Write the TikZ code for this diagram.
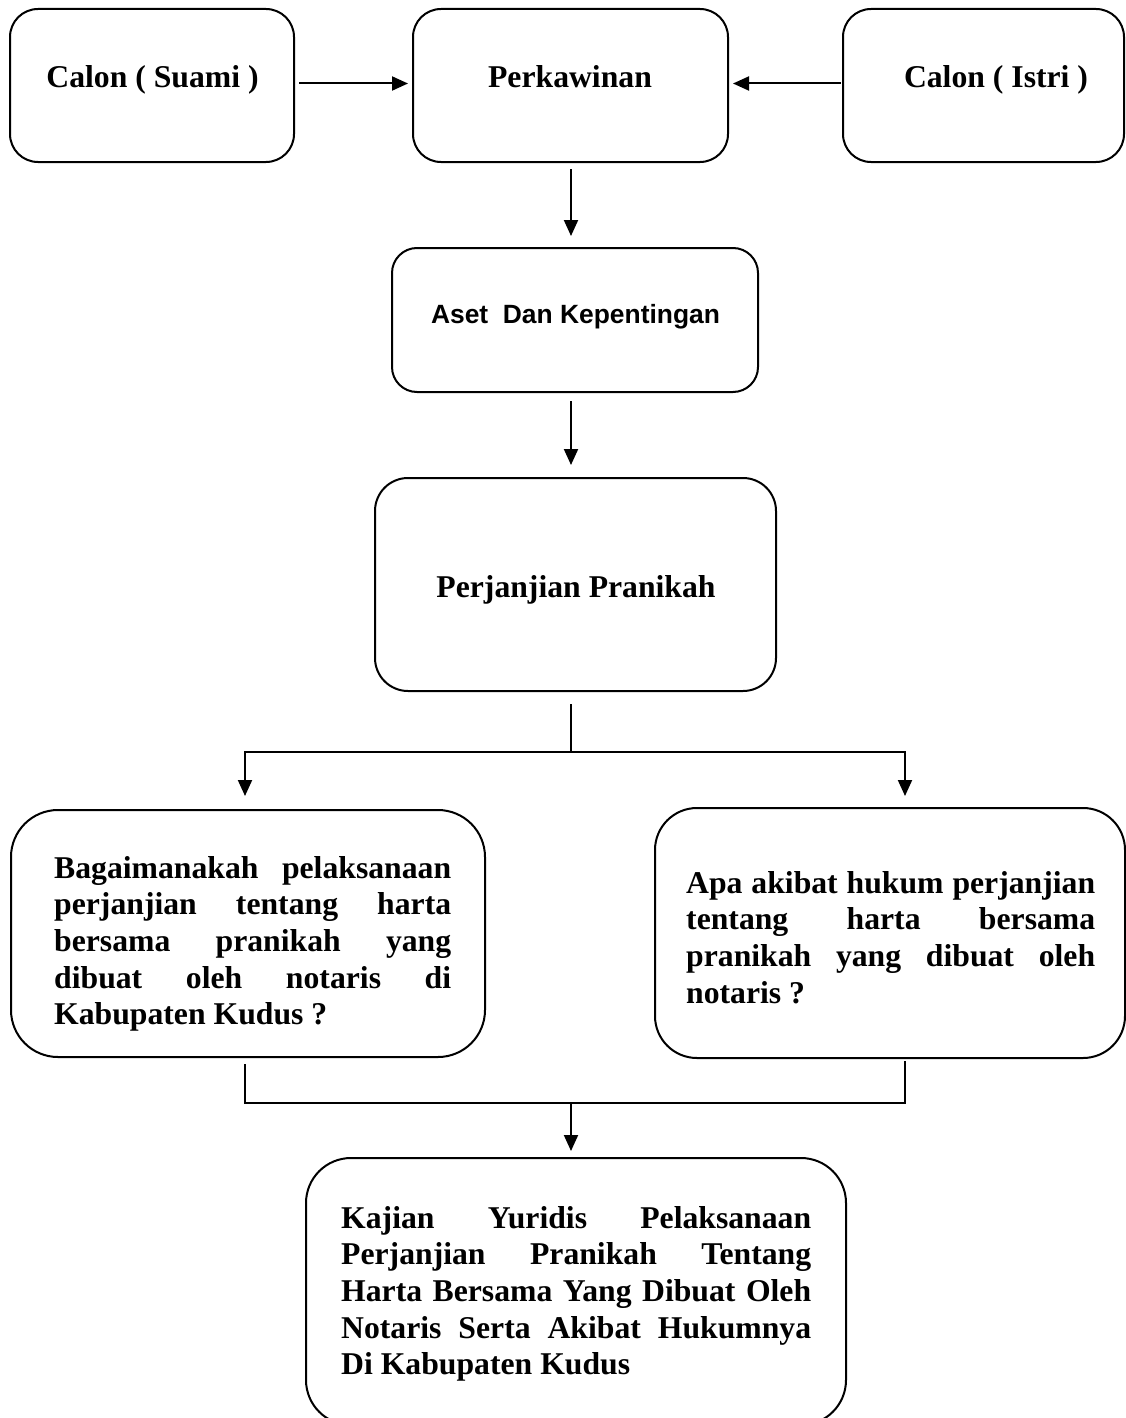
\documentclass[tikz,border=0pt]{standalone}
\usepackage{fontspec}
\setmainfont{Liberation Serif}
\newfontfamily\arialfont{Liberation Sans}
\usetikzlibrary{arrows.meta,calc}
\newcommand{\jline}[2]{\makebox[#1][s]{#2}}
\begin{document}
\begin{tikzpicture}[x=1pt,y=-1pt,
  rbox/.style={draw, line width=2pt, rounded corners=#1, inner sep=0pt},
  conn/.style={line width=2pt},
  arr/.style={conn, -{Triangle[length=16pt,width=14pt]}},
  lbl/.style={font=\bfseries\fontsize{31.7}{36.6}\selectfont, inner sep=0pt},
  para/.style={lbl, align=left, anchor=north west},
]
\useasboundingbox (0,0) rectangle (1126,1418);
\clip (0,0) rectangle (1126,1418);
\fill[white] (0,0) rectangle (1126,1418);

% boxes
\node[rbox=28pt, minimum width=284pt, minimum height=153pt] (suami) at (152,85.5) {};
\node[rbox=28pt, minimum width=315pt, minimum height=153pt] (perk) at (570.5,85.5) {};
\node[rbox=28pt, minimum width=281pt, minimum height=153pt] (istri) at (983.5,85.5) {};
\node[rbox=25pt, minimum width=366pt, minimum height=144pt] (aset) at (575,320) {};
\node[rbox=33pt, minimum width=401pt, minimum height=213pt] (perj) at (575.5,584.5) {};
\node[rbox=47pt, minimum width=474pt, minimum height=247pt] (lbox) at (248,933.5) {};
\node[rbox=42pt, minimum width=470pt, minimum height=250pt] (rbox) at (890,933) {};
\node[rbox=45pt, minimum width=540pt, minimum height=267pt] (bbox) at (576,1291.5) {};

% texts
\node[lbl, anchor=base] (tsuami) at (152.5,88) {Calon ( Suami )};
\node[lbl, anchor=base] (tperk) at (570,88) {Perkawinan};
\node[lbl, anchor=base] (tistri) at (996,88) {Calon ( Istri )};
\node[lbl, font=\arialfont\bfseries\fontsize{26.4}{30}\selectfont, anchor=base] (taset) at (575.5,323) {Aset~~Dan Kepentingan};
\node[lbl, anchor=base] (tperj) at (576,597) {Perjanjian Pranikah};

\node[para] (tl) at (54,852.4) {%
\jline{397pt}{\strut Bagaimanakah pelaksanaan}\\
\jline{397pt}{perjanjian tentang harta}\\
\jline{397pt}{bersama pranikah yang}\\
\jline{397pt}{dibuat oleh notaris di}\\
Kabupaten Kudus ?};

\node[para] (tr) at (686,867.4) {%
\jline{409pt}{\strut Apa akibat hukum perjanjian}\\
\jline{409pt}{tentang harta bersama}\\
\jline{409pt}{pranikah yang dibuat oleh}\\
notaris ?};

\node[para] (tb) at (341,1202.4) {%
\jline{470pt}{\strut Kajian Yuridis Pelaksanaan}\\
\jline{470pt}{Perjanjian Pranikah Tentang}\\
\jline{470pt}{Harta Bersama Yang Dibuat Oleh}\\
\jline{470pt}{Notaris Serta Akibat Hukumnya}\\
Di Kabupaten Kudus};

% connectors
\draw[arr] ($(suami.east)+(4,-2)$) -- ($(perk.west)+(-4,-2)$);
\draw[arr] ($(istri.west)+(-1,-2)$) -- ($(perk.east)+(4,-2)$);
\draw[arr] ($(perk.south)+(0.5,6)$) -- ($(perk.south |- aset.north)+(0.5,-11)$);
\draw[arr] ($(aset.south)+(-4,8)$) -- ($(aset.south |- perj.north)+(-4,-12)$);

\coordinate (bm) at (571,752);
\coordinate (bl) at (245,752);
\coordinate (br) at (905,752);
\draw[conn] ($(perj.south)+(-4.5,12)$) -- (bm);
\draw[arr] (bm) -- (bl) -- ($(bl |- lbox.north)+(0,-13)$);
\draw[arr] (bm) -- (br) -- ($(br |- rbox.north)+(0,-11)$);

\coordinate (jl) at (245,1103);
\coordinate (jr) at (905,1103);
\coordinate (jm) at (571,1103);
\draw[conn] ($(jl |- lbox.south)+(0,6)$) -- (jl) -- (jr) -- ($(jr |- rbox.south)+(0,2)$);
\draw[arr] (jm) -- ($(jm |- bbox.north)+(0,-6)$);
\end{tikzpicture}
\end{document}
